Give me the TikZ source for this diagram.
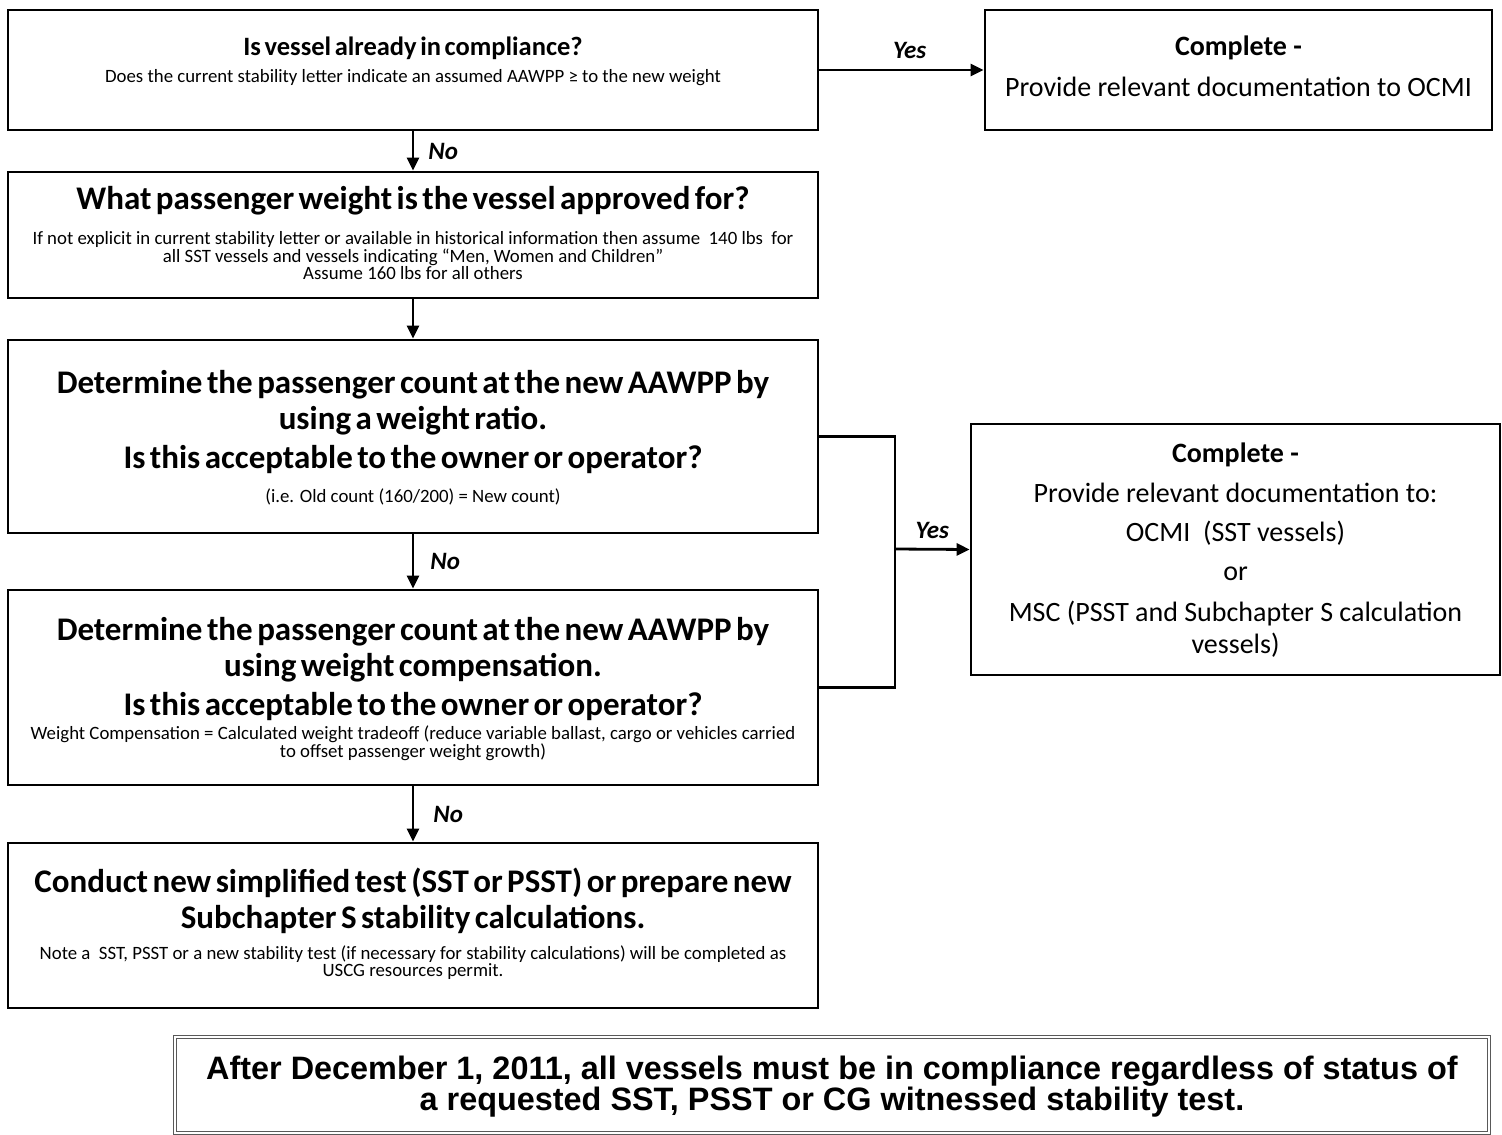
\documentclass[tikz,border=0pt]{standalone}
\usepackage{fontspec}
\setmainfont{Carlito}
\newfontfamily\headfont{Carlito}[WordSpace=0.6]
\newfontfamily\notefont{Liberation Sans}
\usetikzlibrary{arrows.meta}

\begin{document}
\begin{tikzpicture}[x=1pt, y=-1pt,
	box/.style={draw, line width=2.8pt, rectangle, inner sep=0},
	headtxt/.style={inner sep=0, align=center, font=\headfont\fontsize{33}{36}\selectfont\bfseries},
	bodytxt/.style={inner sep=0, align=center, font=\fontsize{28}{32}\selectfont},
	smalltxt/.style={inner sep=0, align=center, font=\fontsize{18.8}{15.8}\selectfont},
	answer/.style={inner sep=0, font=\fontsize{25}{28}\selectfont\bfseries\itshape},
	flow/.style={line width=2.8pt, -{Triangle[length=13pt, width=12pt]}}]
	\useasboundingbox (0,0) rectangle (1502,1135);
	% Boxes:
	\node[box, minimum width=810pt, minimum height=120pt] (q1) at (413,70) {};
	\node[box, minimum width=810pt, minimum height=126pt] (q2) at (413,235) {};
	\node[box, minimum width=810pt, minimum height=193pt] (q3) at (413,436.5) {};
	\node[box, minimum width=810pt, minimum height=195pt] (q4) at (413,687.5) {};
	\node[box, minimum width=810pt, minimum height=165pt] (act) at (413,925.5) {};
	\node[box, minimum width=507pt, minimum height=120pt] (done1) at (1238.5,70) {};
	\node[box, minimum width=529pt, minimum height=251pt] (done2) at (1235.5,549.5) {};
	\node[draw=black!65, double, double distance=2.5pt, line width=1.2pt, inner sep=0, minimum width=1314pt, minimum height=96pt] (note) at (832,1085) {};
	% Texts in the boxes:
	\node[headtxt, font=\headfont\fontsize{26.5}{30}\selectfont\bfseries] (q1head) at (413,48) {Is vessel already in compliance?};
	\node[smalltxt] (q1txt) at (413,78) {Does the current stability letter indicate an assumed AAWPP ≥ to the new weight};
	\node[headtxt] (q2head) at (413,201) {What passenger weight is the vessel approved for?};
	\node[smalltxt] (q2txt) at (413,255.5) {If not explicit in current stability letter or available in historical information then assume \ 140 lbs \ for\\all SST vessels and vessels indicating “Men, Women and Children”\\Assume 160 lbs for all others};
	\node[headtxt] (q3head) at (413,403) {Determine the passenger count at the new AAWPP by\\using a weight ratio.};
	\node[headtxt] (q3ask) at (413,460) {Is this acceptable to the owner or operator?};
	\node[smalltxt] (q3txt) at (413,497) {(i.e. Old count (160/200) = New count)};
	\node[headtxt] (q4head) at (413,650) {Determine the passenger count at the new AAWPP by\\using weight compensation.};
	\node[headtxt] (q4ask) at (413,707) {Is this acceptable to the owner or operator?};
	\node[smalltxt] (q4txt) at (413,743) {Weight Compensation = Calculated weight tradeoff (reduce variable ballast, cargo or vehicles carried\\to offset passenger weight growth)};
	\node[headtxt] (acthead) at (413,900.5) {Conduct new simplified test (SST or PSST) or prepare new\\Subchapter S stability calculations.};
	\node[smalltxt] (acttxt) at (413,963) {Note a \ SST, PSST or a new stability test (if necessary for stability calculations) will be completed as\\USCG resources permit.};
	\node[bodytxt, font=\fontsize{28}{32}\selectfont\bfseries] (done1head) at (1238.5,48) {Complete -};
	\node[bodytxt] (done1txt) at (1238.5,87) {Provide relevant documentation to OCMI};
	\node[bodytxt, font=\fontsize{28}{32}\selectfont\bfseries] (done2head) at (1235.5,455) {Complete -};
	\node[bodytxt] (done2to) at (1235.5,493) {Provide relevant documentation to:};
	\node[bodytxt] (done2ocmi) at (1235.5,533) {OCMI \ (SST vessels)};
	\node[bodytxt] (done2or) at (1235.5,574) {or};
	\node[bodytxt] (done2msc) at (1235.5,629) {MSC (PSST and Subchapter S calculation\\vessels)};
	\node[inner sep=0, align=center, font=\notefont\fontsize{32.4}{31}\selectfont\bfseries] (notetxt) at (832,1087) {After December 1, 2011, all vessels must be in compliance regardless of status of\\a requested SST, PSST or CG witnessed stability test.};
	% Arrows:
	\draw[flow] (q1.south) -- node[answer, right=14pt] {No} (q2.north);
	\draw[flow] (q2.south) -- (q3.north);
	\draw[flow] (q3.south) -- node[answer, right=16pt] {No} (q4.north);
	\draw[flow] (q4.south) -- node[answer, right=19pt] {No} (act.north);
	\draw[flow] (q1.east) -- node[answer, pos=0.55, above=10pt] {Yes} (done1.west);
	\coordinate (merge) at (895,549);
	\draw[line width=2.8pt] (q3.east) -| (merge) |- (q4.east);
	\draw[flow] (merge) -- node[answer, above=9pt] {Yes} (done2.west);
\end{tikzpicture}
\end{document}
